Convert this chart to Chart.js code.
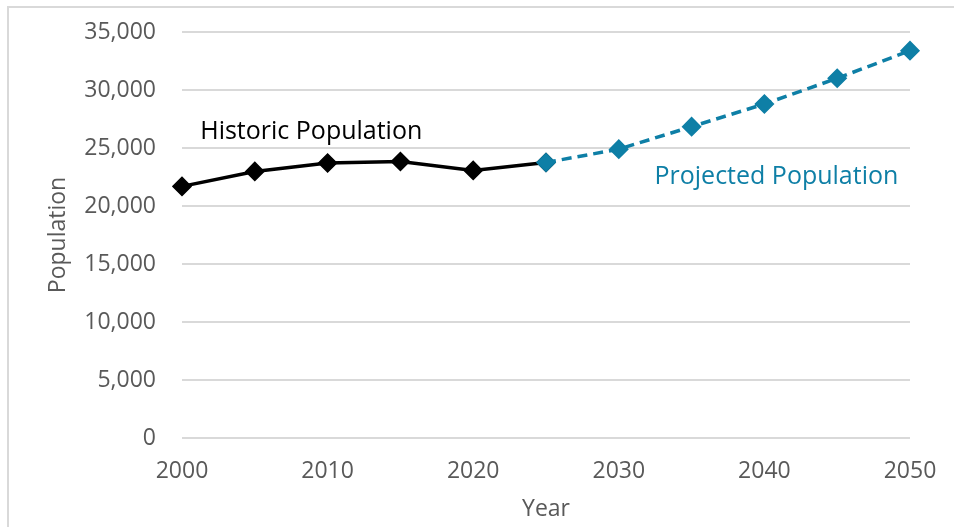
<!DOCTYPE html>
<html>
<head>
<meta charset="utf-8">
<script src="https://cdn.jsdelivr.net/npm/chart.js@4"></script>
<style>
  html, body { margin: 0; padding: 0; background: #fff; }
  #wrap { width: 954px; height: 527px; position: relative; }
</style>
</head>
<body>
<div id="wrap"><canvas id="c" width="954" height="527"></canvas></div>
<script>
const historicYears = [2000, 2005, 2010, 2015, 2020, 2025];
const historicValues = [21690, 22980, 23710, 23840, 23070, 23750];
const projectedYears = [2025, 2030, 2035, 2040, 2045, 2050];
const projectedValues = [23750, 24900, 26840, 28790, 31010, 33390];
const xTicks = [2000, 2010, 2020, 2030, 2040, 2050];
const yTicks = [0, 5000, 10000, 15000, 20000, 25000, 30000, 35000];
const seriesNames = ['Historic Population', 'Projected Population'];

const BLUE = '#0E7FA6';
const GRAY = '#595959';
const FONT = "'Open Sans', sans-serif";

const labelsPlugin = {
  id: 'seriesLabels',
  afterDatasetsDraw(chart) {
    const {ctx, scales: {x, y}} = chart;
    ctx.save();
    ctx.font = '25px ' + FONT;
    ctx.textBaseline = 'middle';
    ctx.textAlign = 'left';
    ctx.fillStyle = '#000';
    ctx.fillText(seriesNames[0], x.getPixelForValue(2001.25), y.getPixelForValue(26400));
    ctx.fillStyle = BLUE;
    ctx.textAlign = 'right';
    ctx.fillText(seriesNames[1], x.getPixelForValue(2049.2), y.getPixelForValue(22500));
    ctx.restore();
  },
  beforeDraw(chart) {
    const {ctx} = chart;
    ctx.save();
    ctx.strokeStyle = '#d9d9d9';
    ctx.lineWidth = 2;
    ctx.strokeRect(8, 7, 2000, 2000);
    ctx.restore();
  }
};

new Chart(document.getElementById('c'), {
  type: 'line',
  data: {
    datasets: [
      {
        label: seriesNames[1],
        data: projectedYears.map((yr, i) => ({x: yr, y: projectedValues[i]})),
        borderColor: BLUE,
        backgroundColor: BLUE,
        borderWidth: 3.5,
        borderDash: [10, 6],
        pointStyle: 'rectRot',
        pointRadius: 9,
        pointBorderWidth: 1.5,
        pointBorderColor: BLUE,
        pointBackgroundColor: BLUE,
        tension: 0,
        fill: false,
        clip: false
      },
      {
        label: seriesNames[0],
        data: historicYears.map((yr, i) => ({x: yr, y: historicValues[i]})),
        borderColor: '#000',
        backgroundColor: '#000',
        borderWidth: 3.5,
        pointStyle: 'rectRot',
        pointRadius: 9,
        pointBorderWidth: 1.5,
        pointBorderColor: '#000',
        pointBackgroundColor: '#000',
        tension: 0,
        fill: false,
        clip: false
      }
    ]
  },
  options: {
    responsive: false,
    animation: false,
    devicePixelRatio: 1,
    layout: { autoPadding: false, padding: { left: 0, right: 44, top: 32, bottom: 0 } },
    plugins: { legend: { display: false }, tooltip: { enabled: false } },
    scales: {
      x: {
        type: 'linear',
        min: 2000, max: 2050,
        afterBuildTicks: s => { s.ticks = xTicks.map(v => ({value: v})); },
        afterFit: s => { s.height = 89; s.paddingLeft = 0; s.paddingRight = 0; },
        grid: { display: false, drawTicks: false },
        border: { display: false },
        ticks: { color: GRAY, font: { family: FONT, size: 23 }, padding: 20, maxRotation: 0, callback: v => String(v) },
        title: { display: true, text: 'Year', color: GRAY, font: { family: FONT, size: 23 }, padding: { top: 0, bottom: 4 } }
      },
      y: {
        min: 0, max: 35000,
        afterBuildTicks: s => { s.ticks = yTicks.map(v => ({value: v})); },
        afterFit: s => { s.width = 182; s.paddingTop = 0; s.paddingBottom = 0; },
        grid: { color: '#d9d9d9', lineWidth: 2, drawTicks: false },
        border: { display: false },
        ticks: { color: GRAY, font: { family: FONT, size: 23 }, padding: 26, callback: v => v.toLocaleString('en-US') },
        title: { display: true, text: 'Population', color: GRAY, font: { family: FONT, size: 23 }, padding: { top: 45, bottom: 0 } }
      }
    }
  },
  plugins: [labelsPlugin]
});
</script>
</body>
</html>
